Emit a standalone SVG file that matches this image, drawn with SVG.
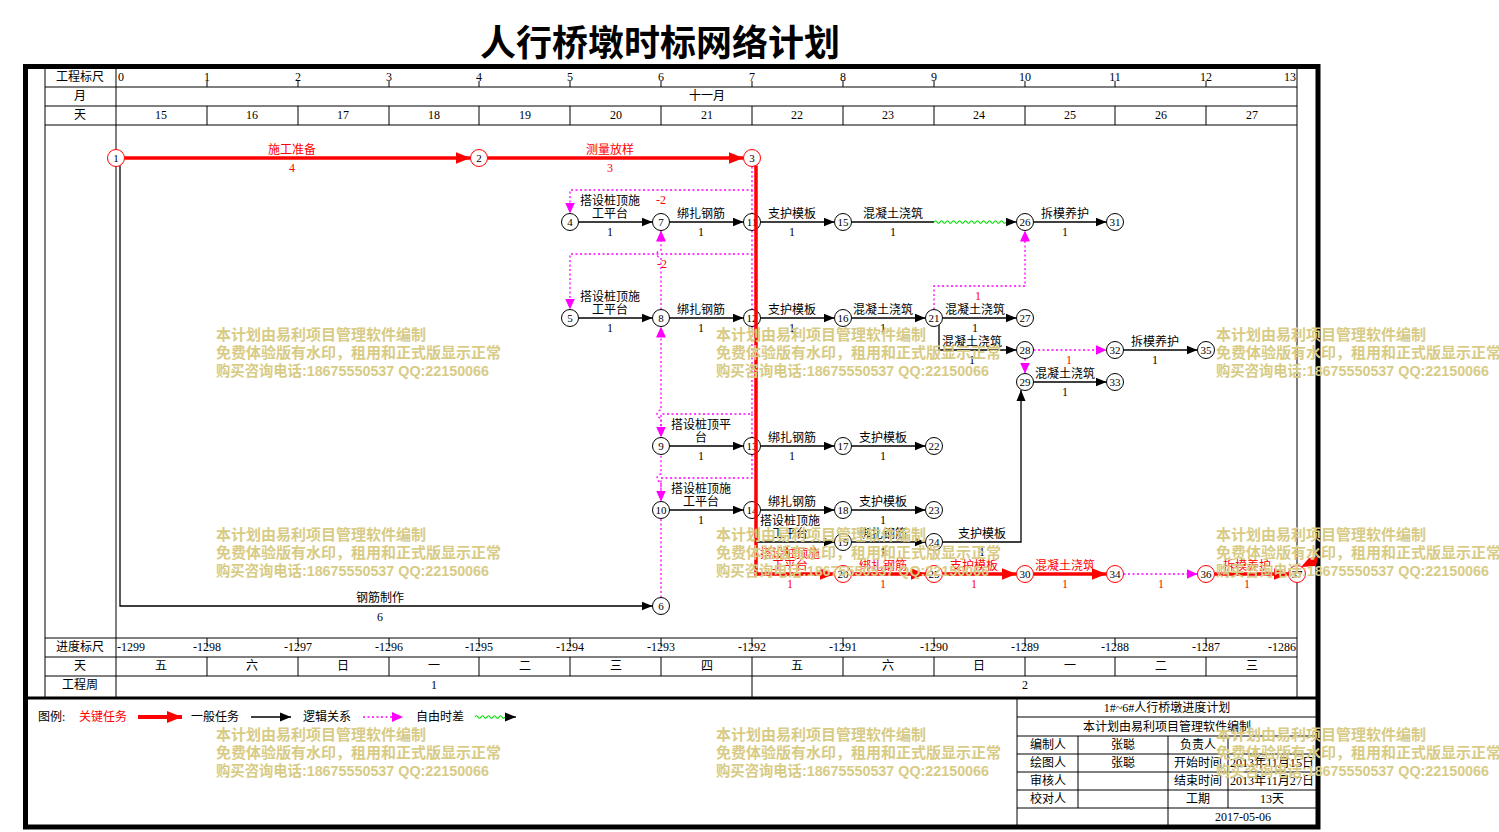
<svg xmlns="http://www.w3.org/2000/svg" xmlns:xlink="http://www.w3.org/1999/xlink" width="1499" height="832" viewBox="0 0 1499 832">
<defs>
<style>
text{font-family:"Liberation Serif","Noto Sans CJK SC",serif;font-size:12px;text-anchor:middle;fill:#000}
.red{fill:#f00}
.st{text-anchor:start}
.en{text-anchor:end}
.g line{stroke:#000;stroke-width:1}
.frame{fill:none;stroke:#000;stroke-width:5}
.node circle{fill:#fff;stroke:#000;stroke-width:1}
.node.crit circle{stroke:#f00}
.node text{font-size:11px}
.e{stroke:#000;stroke-width:1.3;fill:none;marker-end:url(#ab)}
.c{stroke:#f00;stroke-width:3.5;fill:none;marker-end:url(#ar)}
.d{stroke:#f0f;stroke-width:1.3;stroke-dasharray:2 2.5;fill:none;marker-end:url(#am)}
.w{stroke:#00dd00;stroke-width:1.2;fill:none}
.wm text{font-family:"Liberation Sans","Noto Sans CJK SC",sans-serif;font-size:15px;font-weight:bold;fill:#D8CB85;text-anchor:start}
.title{font-family:"Noto Sans CJK SC",sans-serif;font-size:36px;font-weight:bold}
</style>
<marker id="ab" markerUnits="userSpaceOnUse" markerWidth="12" markerHeight="10" refX="11" refY="5" orient="auto"><path d="M0,0.5 L11,5 L0,9.5z" fill="#000"/></marker>
<marker id="ar" markerUnits="userSpaceOnUse" markerWidth="16" markerHeight="12" refX="15" refY="6" orient="auto"><path d="M0,0 L15,6 L0,12z" fill="#f00"/></marker>
<marker id="am" markerUnits="userSpaceOnUse" markerWidth="12" markerHeight="10" refX="11" refY="5" orient="auto"><path d="M0,0 L11,5 L0,10z" fill="#f0f"/></marker>
<g id="wmk" class="wm">
<text x="0" y="0" textLength="210" lengthAdjust="spacingAndGlyphs">本计划由易利项目管理软件编制</text>
<text x="0" y="18" textLength="285" lengthAdjust="spacingAndGlyphs">免费体验版有水印，租用和正式版显示正常</text>
<text x="0" y="36" textLength="273" lengthAdjust="spacingAndGlyphs">购买咨询电话:18675550537 QQ:22150066</text>
</g>
</defs>
<rect width="1499" height="832" fill="#fff"/>
<text class="title" x="660" y="56">人行桥墩时标网络计划</text>

<g id="frame">
<rect class="frame" x="25.5" y="66.5" width="1292.5" height="760.5"/>
<line x1="24" y1="698" x2="1320" y2="698" stroke="#000" stroke-width="3"/>
</g>

<g id="scale" class="g">
<line x1="45" y1="67" x2="45" y2="697"/>
<line x1="116" y1="67" x2="116" y2="697"/>
<line x1="1297" y1="67" x2="1297" y2="697"/>
<line x1="45" y1="87" x2="1297" y2="87"/>
<line x1="45" y1="106" x2="1297" y2="106"/>
<line x1="45" y1="125" x2="1297" y2="125"/>
<line x1="45" y1="638" x2="1297" y2="638"/>
<line x1="45" y1="657" x2="1297" y2="657"/>
<line x1="45" y1="676" x2="1297" y2="676"/>
<line x1="207" y1="81" x2="207" y2="87"/><line x1="298" y1="81" x2="298" y2="87"/><line x1="389" y1="81" x2="389" y2="87"/><line x1="479" y1="81" x2="479" y2="87"/><line x1="570" y1="81" x2="570" y2="87"/><line x1="661" y1="81" x2="661" y2="87"/><line x1="752" y1="81" x2="752" y2="87"/><line x1="843" y1="81" x2="843" y2="87"/><line x1="934" y1="81" x2="934" y2="87"/><line x1="1025" y1="81" x2="1025" y2="87"/><line x1="1115" y1="81" x2="1115" y2="87"/><line x1="1206" y1="81" x2="1206" y2="87"/>
<line x1="207" y1="106" x2="207" y2="125"/><line x1="298" y1="106" x2="298" y2="125"/><line x1="389" y1="106" x2="389" y2="125"/><line x1="479" y1="106" x2="479" y2="125"/><line x1="570" y1="106" x2="570" y2="125"/><line x1="661" y1="106" x2="661" y2="125"/><line x1="752" y1="106" x2="752" y2="125"/><line x1="843" y1="106" x2="843" y2="125"/><line x1="934" y1="106" x2="934" y2="125"/><line x1="1025" y1="106" x2="1025" y2="125"/><line x1="1115" y1="106" x2="1115" y2="125"/><line x1="1206" y1="106" x2="1206" y2="125"/>
<line x1="207" y1="638" x2="207" y2="646"/><line x1="298" y1="638" x2="298" y2="646"/><line x1="389" y1="638" x2="389" y2="646"/><line x1="479" y1="638" x2="479" y2="646"/><line x1="570" y1="638" x2="570" y2="646"/><line x1="661" y1="638" x2="661" y2="646"/><line x1="752" y1="638" x2="752" y2="646"/><line x1="843" y1="638" x2="843" y2="646"/><line x1="934" y1="638" x2="934" y2="646"/><line x1="1025" y1="638" x2="1025" y2="646"/><line x1="1115" y1="638" x2="1115" y2="646"/><line x1="1206" y1="638" x2="1206" y2="646"/>
<line x1="207" y1="657" x2="207" y2="676"/><line x1="298" y1="657" x2="298" y2="676"/><line x1="389" y1="657" x2="389" y2="676"/><line x1="479" y1="657" x2="479" y2="676"/><line x1="570" y1="657" x2="570" y2="676"/><line x1="661" y1="657" x2="661" y2="676"/><line x1="752" y1="657" x2="752" y2="676"/><line x1="843" y1="657" x2="843" y2="676"/><line x1="934" y1="657" x2="934" y2="676"/><line x1="1025" y1="657" x2="1025" y2="676"/><line x1="1115" y1="657" x2="1115" y2="676"/><line x1="1206" y1="657" x2="1206" y2="676"/>
<line x1="752" y1="676" x2="752" y2="697"/>
</g>

<g id="scale-text">
<text x="80" y="81">工程标尺</text><text x="80" y="100">月</text><text x="80" y="119">天</text>
<text x="80" y="651">进度标尺</text><text x="80" y="670">天</text><text x="80" y="689">工程周</text>
<text class="st" x="118" y="81">0</text><text x="207" y="81">1</text><text x="298" y="81">2</text><text x="389" y="81">3</text><text x="479" y="81">4</text><text x="570" y="81">5</text><text x="661" y="81">6</text><text x="752" y="81">7</text><text x="843" y="81">8</text><text x="934" y="81">9</text><text x="1025" y="81">10</text><text x="1115" y="81">11</text><text x="1206" y="81">12</text><text class="en" x="1296" y="81">13</text>
<text x="707" y="100">十一月</text>
<text x="161" y="119">15</text><text x="252" y="119">16</text><text x="343" y="119">17</text><text x="434" y="119">18</text><text x="525" y="119">19</text><text x="616" y="119">20</text><text x="707" y="119">21</text><text x="797" y="119">22</text><text x="888" y="119">23</text><text x="979" y="119">24</text><text x="1070" y="119">25</text><text x="1161" y="119">26</text><text x="1252" y="119">27</text>
<text class="st" x="117" y="651">-1299</text><text x="207" y="651">-1298</text><text x="298" y="651">-1297</text><text x="389" y="651">-1296</text><text x="479" y="651">-1295</text><text x="570" y="651">-1294</text><text x="661" y="651">-1293</text><text x="752" y="651">-1292</text><text x="843" y="651">-1291</text><text x="934" y="651">-1290</text><text x="1025" y="651">-1289</text><text x="1115" y="651">-1288</text><text x="1206" y="651">-1287</text><text class="en" x="1296" y="651">-1286</text>
<text x="161" y="670">五</text><text x="252" y="670">六</text><text x="343" y="670">日</text><text x="434" y="670">一</text><text x="525" y="670">二</text><text x="616" y="670">三</text><text x="707" y="670">四</text><text x="797" y="670">五</text><text x="888" y="670">六</text><text x="979" y="670">日</text><text x="1070" y="670">一</text><text x="1161" y="670">二</text><text x="1252" y="670">三</text>
<text x="434" y="689">1</text><text x="1025" y="689">2</text>
</g>

<g id="connectors">
<path class="c" d="M124.5,158 H470.5"/>
<path class="c" d="M487.5,158 H743.5"/>
<path class="c" d="M851.5,574 H925.5"/>
<path class="c" d="M942.5,574 H1016.5"/>
<path class="c" d="M1033.5,574 H1106.5"/>
<path class="c" d="M1214.5,574 H1288.5"/>
<polygon points="1301,567 1309,558 1318,557 1316,566" fill="#f00"/>
<path class="e" d="M120,165.5 V606 H652.5"/>
<path class="e" d="M578.5,222 H652.5"/>
<path class="e" d="M669.5,222 H743.5"/>
<path class="e" d="M760.5,222 H834.5"/>
<path d="M851.5,222 H934" stroke="#000" stroke-width="1.3"/>
<path class="w" d="M934,222 q1.5,-2.5 3,0 t3,0 t3,0 t3,0 t3,0 t3,0 t3,0 t3,0 t3,0 t3,0 t3,0 t3,0 t3,0 t3,0 t3,0 t3,0 t3,0 t3,0 t3,0 t3,0 t3,0 t3,0 t3,0 t3,0"/>
<path class="e" d="M1006,222 H1016.5"/>
<path class="e" d="M1033.5,222 H1106.5"/>
<path class="e" d="M578.5,318 H652.5"/>
<path class="e" d="M669.5,318 H743.5"/>
<path class="e" d="M760.5,318 H834.5"/>
<path class="e" d="M851.5,318 H925.5"/>
<path class="e" d="M942.5,318 H1016.5"/>
<path class="e" d="M939,325 V350 H1016.5"/>
<path class="e" d="M1123.5,350 H1197.5"/>
<path class="e" d="M1033.5,382 H1106.5"/>
<path class="e" d="M669.5,446 H743.5"/>
<path class="e" d="M760.5,446 H834.5"/>
<path class="e" d="M851.5,446 H925.5"/>
<path class="e" d="M669.5,510 H743.5"/>
<path class="e" d="M760.5,510 H834.5"/>
<path class="e" d="M851.5,510 H925.5"/>
<path class="e" d="M756,542 H834.5"/>
<path class="e" d="M851.5,542 H925.5"/>
<path class="e" d="M942.5,542 H1021 V390"/>
<path class="d" d="M752,166.5 V190 H570 V213.5"/>
<path class="d" d="M752,190 V254 H570 V309.5"/>
<path class="d" d="M752,254 V414 H661 V437.5"/>
<path class="d" d="M752,414 V478 H661 V501.5"/>
<path class="d" d="M661,597.5 V482 A4,4 0 0 1 661,474 V418 A4,4 0 0 1 661,410 V326.5"/>
<path class="d" d="M661,309.5 V258 A4,4 0 0 1 661,250 V230.5"/>
<path class="d" d="M934,309.5 V286 H1025 V230.5"/>
<path class="d" d="M1033.5,350 H1106.5"/>
<path class="d" d="M1025,358.5 V373.5"/>
<path class="d" d="M1123.5,574 H1197.5"/>
</g>

<g id="nodes">
<g id="n1" class="node crit"><circle cx="116" cy="158" r="8.5"/><text x="116" y="162">1</text></g>
<g id="n2" class="node crit"><circle cx="479" cy="158" r="8.5"/><text x="479" y="162">2</text></g>
<g id="n3" class="node crit"><circle cx="752" cy="158" r="8.5"/><text x="752" y="162">3</text></g>
<g id="n4" class="node"><circle cx="570" cy="222" r="8.5"/><text x="570" y="226">4</text></g>
<g id="n7" class="node"><circle cx="661" cy="222" r="8.5"/><text x="661" y="226">7</text></g>
<g id="n11" class="node"><circle cx="752" cy="222" r="8.5"/><text x="752" y="226">11</text></g>
<g id="n15" class="node"><circle cx="843" cy="222" r="8.5"/><text x="843" y="226">15</text></g>
<g id="n26" class="node"><circle cx="1025" cy="222" r="8.5"/><text x="1025" y="226">26</text></g>
<g id="n31" class="node"><circle cx="1115" cy="222" r="8.5"/><text x="1115" y="226">31</text></g>
<g id="n5" class="node"><circle cx="570" cy="318" r="8.5"/><text x="570" y="322">5</text></g>
<g id="n8" class="node"><circle cx="661" cy="318" r="8.5"/><text x="661" y="322">8</text></g>
<g id="n12" class="node"><circle cx="752" cy="318" r="8.5"/><text x="752" y="322">12</text></g>
<g id="n16" class="node"><circle cx="843" cy="318" r="8.5"/><text x="843" y="322">16</text></g>
<g id="n21" class="node"><circle cx="934" cy="318" r="8.5"/><text x="934" y="322">21</text></g>
<g id="n27" class="node"><circle cx="1025" cy="318" r="8.5"/><text x="1025" y="322">27</text></g>
<g id="n28" class="node"><circle cx="1025" cy="350" r="8.5"/><text x="1025" y="354">28</text></g>
<g id="n32" class="node"><circle cx="1115" cy="350" r="8.5"/><text x="1115" y="354">32</text></g>
<g id="n35" class="node"><circle cx="1206" cy="350" r="8.5"/><text x="1206" y="354">35</text></g>
<g id="n29" class="node"><circle cx="1025" cy="382" r="8.5"/><text x="1025" y="386">29</text></g>
<g id="n33" class="node"><circle cx="1115" cy="382" r="8.5"/><text x="1115" y="386">33</text></g>
<g id="n9" class="node"><circle cx="661" cy="446" r="8.5"/><text x="661" y="450">9</text></g>
<g id="n13" class="node"><circle cx="752" cy="446" r="8.5"/><text x="752" y="450">13</text></g>
<g id="n17" class="node"><circle cx="843" cy="446" r="8.5"/><text x="843" y="450">17</text></g>
<g id="n22" class="node"><circle cx="934" cy="446" r="8.5"/><text x="934" y="450">22</text></g>
<g id="n10" class="node"><circle cx="661" cy="510" r="8.5"/><text x="661" y="514">10</text></g>
<g id="n14" class="node"><circle cx="752" cy="510" r="8.5"/><text x="752" y="514">14</text></g>
<g id="n18" class="node"><circle cx="843" cy="510" r="8.5"/><text x="843" y="514">18</text></g>
<g id="n23" class="node"><circle cx="934" cy="510" r="8.5"/><text x="934" y="514">23</text></g>
<g id="n19" class="node"><circle cx="843" cy="542" r="8.5"/><text x="843" y="546">19</text></g>
<g id="n24" class="node"><circle cx="934" cy="542" r="8.5"/><text x="934" y="546">24</text></g>
<g id="n20" class="node crit"><circle cx="843" cy="574" r="8.5"/><text x="843" y="578">20</text></g>
<g id="n25" class="node crit"><circle cx="934" cy="574" r="8.5"/><text x="934" y="578">25</text></g>
<g id="n30" class="node crit"><circle cx="1025" cy="574" r="8.5"/><text x="1025" y="578">30</text></g>
<g id="n34" class="node crit"><circle cx="1115" cy="574" r="8.5"/><text x="1115" y="578">34</text></g>
<g id="n36" class="node crit"><circle cx="1206" cy="574" r="8.5"/><text x="1206" y="578">36</text></g>
<g id="n37" class="node crit"><circle cx="1297" cy="574" r="8.5"/><text x="1297" y="578">37</text></g>
<g id="n6" class="node"><circle cx="661" cy="606" r="8.5"/><text x="661" y="610">6</text></g>
</g>

<g id="connectors-critical">
<path class="c" d="M756,165.5 V574 H834.5"/>
</g>

<g id="labels">
<text class="red" x="292" y="154">施工准备</text><text class="red" x="292" y="172">4</text>
<text class="red" x="610" y="154">测量放样</text><text class="red" x="610" y="172">3</text>
<text x="610" y="205">搭设桩顶施</text><text x="610" y="218">工平台</text><text x="610" y="236">1</text>
<text class="red" x="661" y="204">-2</text>
<text x="701" y="218">绑扎钢筋</text><text x="701" y="236">1</text>
<text x="792" y="218">支护模板</text><text x="792" y="236">1</text>
<text x="893" y="218">混凝土浇筑</text><text x="893" y="236">1</text>
<text x="1065" y="218">拆模养护</text><text x="1065" y="236">1</text>
<text class="red" x="662" y="268">-2</text>
<text x="610" y="301">搭设桩顶施</text><text x="610" y="314">工平台</text><text x="610" y="332">1</text>
<text x="701" y="314">绑扎钢筋</text><text x="701" y="332">1</text>
<text x="792" y="314">支护模板</text><text x="792" y="332">1</text>
<text x="883" y="314">混凝土浇筑</text><text x="883" y="332">1</text>
<text x="975" y="314">混凝土浇筑</text><text x="975" y="332">1</text>
<text class="red" x="978" y="300">1</text>
<text x="972" y="346">混凝土浇筑</text><text x="972" y="364">1</text>
<text class="red" x="1069" y="364">1</text>
<text x="1155" y="346">拆模养护</text><text x="1155" y="364">1</text>
<text x="1065" y="378">混凝土浇筑</text><text x="1065" y="396">1</text>
<text x="701" y="429">搭设桩顶平</text><text x="701" y="442">台</text><text x="701" y="460">1</text>
<text x="792" y="442">绑扎钢筋</text><text x="792" y="460">1</text>
<text x="883" y="442">支护模板</text><text x="883" y="460">1</text>
<text x="701" y="493">搭设桩顶施</text><text x="701" y="506">工平台</text><text x="701" y="524">1</text>
<text x="792" y="506">绑扎钢筋</text>
<text x="883" y="506">支护模板</text><text x="883" y="524">1</text>
<text x="790" y="525">搭设桩顶施</text><text x="790" y="538">工平台</text><text x="787" y="554">1</text>
<text x="883" y="538">绑扎钢筋</text><text x="883" y="556">1</text>
<text x="982" y="538">支护模板</text><text x="982" y="556">1</text>
<text class="red" x="790" y="558">搭设桩顶施</text><text class="red" x="790" y="570">工平台</text><text class="red" x="790" y="588">1</text>
<text class="red" x="883" y="570">绑扎钢筋</text><text class="red" x="883" y="588">1</text>
<text class="red" x="974" y="570">支护模板</text><text class="red" x="974" y="588">1</text>
<text class="red" x="1065" y="570">混凝土浇筑</text><text class="red" x="1065" y="588">1</text>
<text class="red" x="1161" y="588">1</text>
<text class="red" x="1247" y="570">拆模养护</text><text class="red" x="1247" y="588">1</text>
<text x="380" y="602">钢筋制作</text><text x="380" y="621">6</text>
</g>

<g id="legend">
<text class="st" x="38" y="721">图例:</text>
<text class="st red" x="79" y="721">关键任务</text>
<path d="M138,717 H182" stroke="#f00" stroke-width="4" marker-end="url(#ar)"/>
<text class="st" x="191" y="721">一般任务</text>
<path class="e" d="M251,717 H291"/>
<text class="st" x="303" y="721">逻辑关系</text>
<path class="d" d="M363,717 H403"/>
<text class="st" x="416" y="721">自由时差</text>
<path class="w" d="M475,717 q1.5,-2.5 3,0 t3,0 t3,0 t3,0 t3,0 t3,0 t3,0 t3,0 t3,0 t3,0"/>
<path class="e" d="M505,717 H516"/>
</g>

<g id="titleblock" class="g">
<line x1="1017" y1="698" x2="1017" y2="827"/>
<line x1="1017" y1="717" x2="1318" y2="717"/>
<line x1="1017" y1="736" x2="1318" y2="736"/>
<line x1="1017" y1="754" x2="1318" y2="754"/>
<line x1="1017" y1="772" x2="1318" y2="772"/>
<line x1="1017" y1="790" x2="1318" y2="790"/>
<line x1="1017" y1="808" x2="1318" y2="808"/>
<line x1="1078" y1="736" x2="1078" y2="808"/>
<line x1="1168" y1="736" x2="1168" y2="827"/>
<line x1="1228" y1="736" x2="1228" y2="808"/>
<text x="1167" y="712">1#~6#人行桥墩进度计划</text>
<text x="1167" y="731">本计划由易利项目管理软件编制</text>
<text x="1048" y="749">编制人</text><text x="1123" y="749">张聪</text><text x="1198" y="749">负责人</text>
<text x="1048" y="767">绘图人</text><text x="1123" y="767">张聪</text><text x="1198" y="767">开始时间</text><text x="1272" y="767" textLength="84" lengthAdjust="spacingAndGlyphs">2013年11月15日</text>
<text x="1048" y="785">审核人</text><text x="1198" y="785">结束时间</text><text x="1272" y="785" textLength="84" lengthAdjust="spacingAndGlyphs">2013年11月27日</text>
<text x="1048" y="803">校对人</text><text x="1198" y="803">工期</text><text x="1272" y="803">13天</text>
<text x="1243" y="821">2017-05-06</text>
</g>

<g id="watermarks">
<use xlink:href="#wmk" x="216" y="340"/>
<use xlink:href="#wmk" x="716" y="340"/>
<use xlink:href="#wmk" x="1216" y="340"/>
<use xlink:href="#wmk" x="216" y="540"/>
<use xlink:href="#wmk" x="716" y="540"/>
<use xlink:href="#wmk" x="1216" y="540"/>
<use xlink:href="#wmk" x="216" y="740"/>
<use xlink:href="#wmk" x="716" y="740"/>
<use xlink:href="#wmk" x="1216" y="740"/>
</g>
</svg>
